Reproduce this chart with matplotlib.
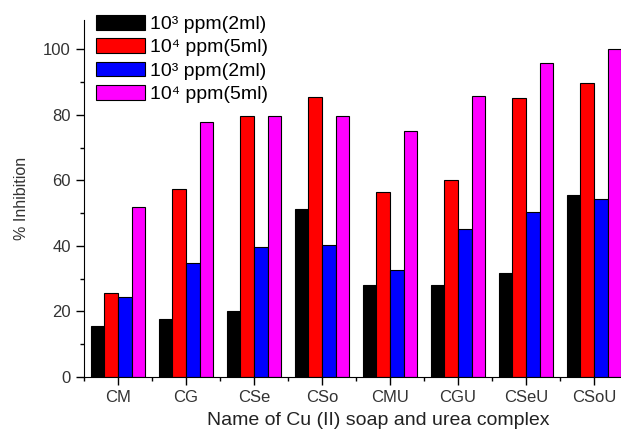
import numpy as np
import matplotlib.pyplot as plt

plt.rcParams['font.family'] = ['Liberation Sans', 'DejaVu Sans']

categories = ['CM', 'CG', 'CSe', 'CSo', 'CMU', 'CGU', 'CSeU', 'CSoU']
labels = ['10³ ppm(2ml)', '10⁴ ppm(5ml)', '10³ ppm(2ml)', '10⁴ ppm(5ml)']
colors = ['black', 'red', 'blue', 'magenta']

s1 = [15.5, 17.8, 20.2, 51.2, 28.0, 28.0, 31.9, 55.5]
s2 = [25.5, 57.3, 79.8, 85.6, 56.5, 60.3, 85.3, 89.9]
s3 = [24.4, 34.9, 39.7, 40.4, 32.6, 45.3, 50.4, 54.3]
s4 = [51.9, 78.0, 79.8, 79.8, 75.0, 85.7, 95.9, 100.0]
series = [s1, s2, s3, s4]

fig = plt.figure(figsize=(6.21, 4.29), dpi=100)
W, H = 621, 429
# axes box in pixels: left 84, right 628 (cropped off), bottom 377, top 20
ax = fig.add_axes([84 / W, (H - 377) / H, (628 - 84) / W, (377 - 20) / H])

x = np.arange(1, len(categories) + 1)
w = 0.2
for i, (vals, c) in enumerate(zip(series, colors)):
    ax.bar(x + (i - 1.5) * w, vals, width=w, color=c, edgecolor='black',
           linewidth=0.8, label=labels[i])

ax.set_xlim(0.5, 8.5)
ax.set_ylim(0, 109)
ax.set_xticks(x)
ax.set_xticklabels(categories)
ax.set_xticks(np.arange(0.5, 9, 1), minor=True)
ax.set_yticks([0, 20, 40, 60, 80, 100])
ax.set_yticks(np.arange(10, 110, 20), minor=True)
ax.tick_params(axis='both', which='major', direction='out', length=6, width=1,
               labelsize=12, labelcolor='#333333')
ax.tick_params(axis='both', which='minor', direction='out', length=3, width=1)
ax.spines['top'].set_visible(False)
ax.spines['right'].set_visible(False)

ax.set_xlabel('Name of Cu (II) soap and urea complex', fontsize=14, color='#222222')
ax.xaxis.set_label_coords(0.54, -0.098)
ax.set_ylabel('% Inhibition', fontsize=11.5, color='#333333', labelpad=10)

fig.legend(loc='upper left', bbox_to_anchor=(96 / W, 1 - 15 / H), frameon=False,
           fontsize=14, handlelength=2.5, handleheight=0.8, labelspacing=0.26,
           handletextpad=0.3, borderaxespad=0, borderpad=0)

fig.savefig('out.png', dpi=100)
